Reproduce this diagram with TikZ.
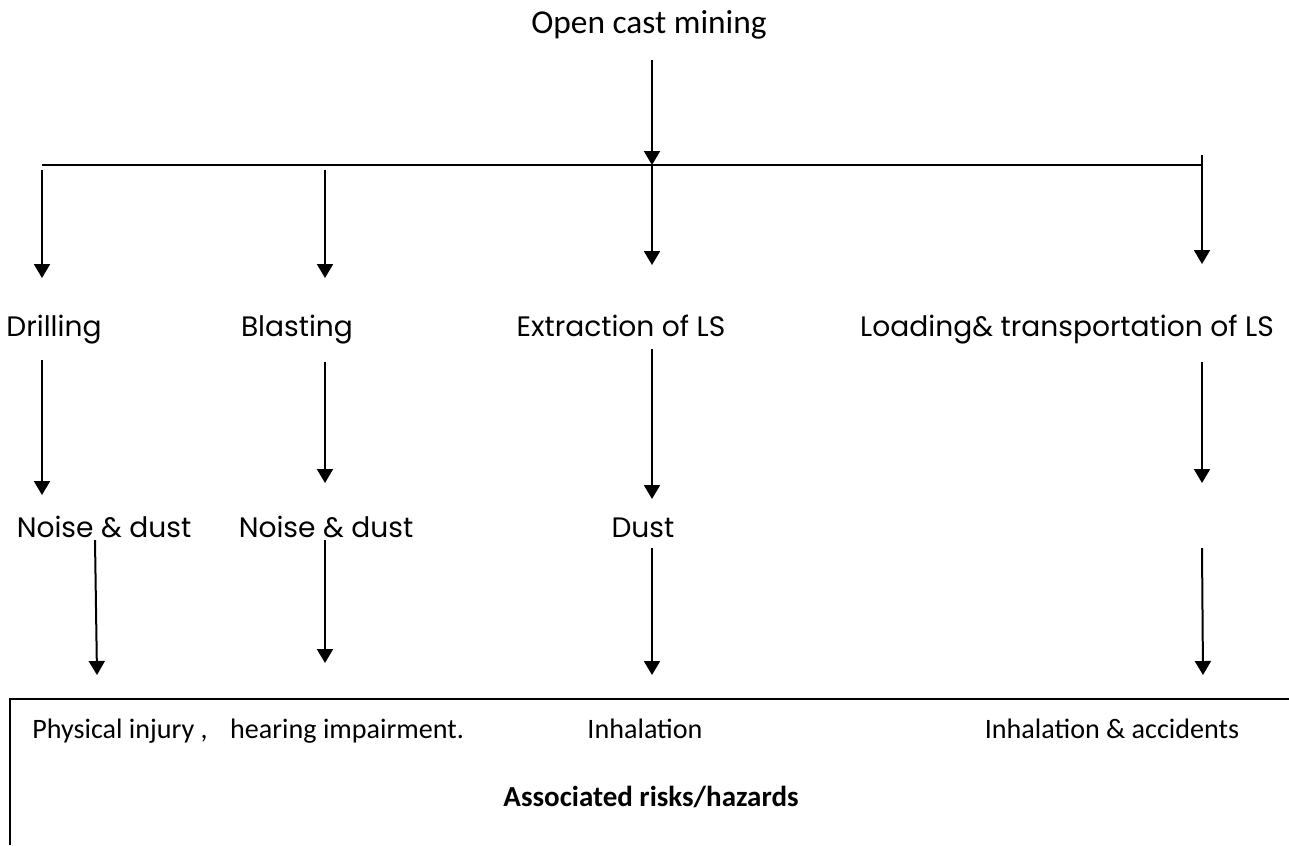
\documentclass[tikz,border=0pt]{standalone}
\usepackage{fontspec}
\setmainfont{Carlito}
\newfontfamily\gothic{Poppins}
\usetikzlibrary{arrows.meta}
\begin{document}
\begin{tikzpicture}[x=0.2mm,y=-0.2mm,
  arr/.style={line width=0.4mm,-{Triangle[length=2.8mm,width=3.2mm]}},
  stage/.style={font=\gothic\fontsize{16}{19}\selectfont,inner sep=0pt,anchor=base},
  risk/.style={font=\fontsize{16}{19}\selectfont,inner sep=0pt,anchor=base}]
  \useasboundingbox (0,0) rectangle (1289,845);
  \node[font=\fontsize{19}{23}\selectfont,inner sep=0pt,anchor=base] (mine) at (649,33) {Open cast mining};
  \coordinate (bus) at (652,165);
  \coordinate (busl) at (42,165);
  \coordinate (busr) at (1202,165);
  \draw[arr] (652,60)--(bus);
  \draw[line width=0.32mm] (busl)--(busr);
  \node[stage] (drill) at (54,336) {Drilling};
  \node[stage] (blast) at (297,336) {Blasting};
  \node[stage] (extr) at (621,336) {Extraction of LS};
  \node[stage] (load) at (1067,336) {Loading\& transportation of LS};
  \draw[arr] (42,170)--(42,278);
  \draw[arr] (325,170)--(325,278);
  \draw[arr] (bus)--(652,265);
  \draw[arr] (1202,155)--(1202,264);
  \node[stage] (nd1) at (104,537) {Noise \& dust};
  \node[stage] (nd2) at (326,537) {Noise \& dust};
  \node[stage] (dust) at (643,537) {Dust};
  \draw[arr] (42,360)--(42,495);
  \draw[arr] (325,362)--(325,483);
  \draw[arr] (652,349)--(652,499);
  \draw[arr] (1202,362)--(1202,483);
  \draw[arr] (95,540)--(97,675);
  \draw[arr] (325,540)--(325,663);
  \draw[arr] (652,548)--(652,675);
  \draw[arr] (1202,548)--(1203,675);
  \draw[line width=0.4mm] (1289,699)--(10,699)--(10,845);
  \node[risk,anchor=base west] (injury) at (32,738) {Physical injury ,\hspace{0.8em}hearing impairment.};
  \node[risk] (inhal) at (645,738) {Inhalation};
  \node[risk] (inhacc) at (1112,738) {Inhalation \& accidents};
  \node[risk,font=\bfseries\fontsize{16.5}{19}\selectfont] (hazard) at (651,806) {Associated risks/hazards};
\end{tikzpicture}
\end{document}
